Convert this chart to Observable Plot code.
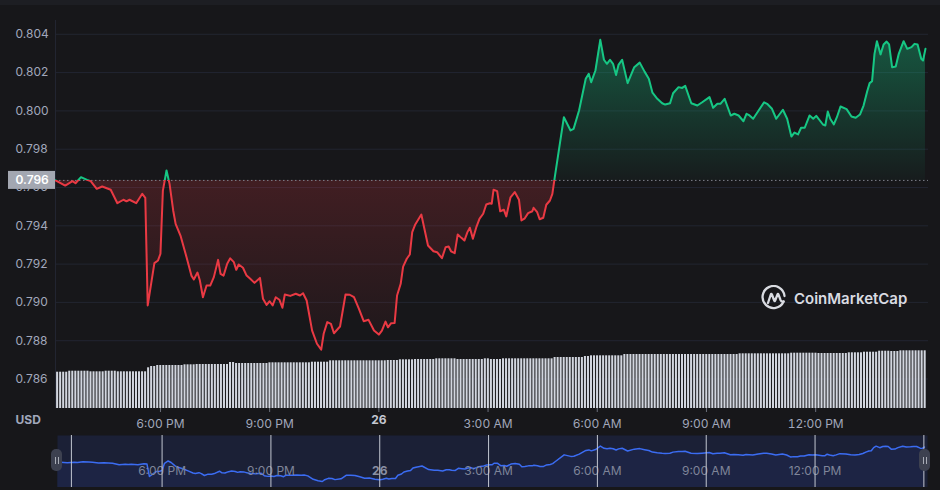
<!DOCTYPE html>
<html><head><meta charset="utf-8">
<script src="https://cdn.jsdelivr.net/npm/d3@7"></script>
<script src="https://cdn.jsdelivr.net/npm/@observablehq/plot@0.6"></script>
<style>
html,body{margin:0;padding:0;background:#17171a;}
#wrap{position:relative;width:940px;height:490px;background:#17171a;overflow:hidden;font-family:Inter,"Noto Sans",sans-serif;}
#wrap > svg{position:absolute;left:0;}
#topstrip{position:absolute;left:0;top:0;width:940px;height:5px;background:#1d1e23;}
.handle{position:absolute;width:11px;height:22px;border-radius:5px;background:#3d4150;display:flex;align-items:center;justify-content:center;}
.handle i{display:block;width:1px;height:7px;background:#a8acb6;margin:0 1px;}
#logo{position:absolute;left:761px;top:285px;display:flex;align-items:center;color:#d9dbe1;font-weight:600;font-size:15px;letter-spacing:0;}
#logo span{margin-left:7px;}
</style></head><body><div id="wrap"><div id="topstrip"></div></div>
<script>
// ---- data ----
const startISO = "2023-06-25T15:00:00Z";          // minutes below are counted from this time
const priceMinutes = [7,23,35,40,49,59,65,75,84,98,109,119,124,129,140,150,155,159,165,170,176,180,184,190,195,201,205,213,223,231,235,241,245,250,256,262,268,275,279,284,290,295,301,305,309,316,322,328,335,344,349,355,360,365,370,376,381,385,394,403,410,415,421,430,438,445,449,455,461,466,476,485,492,499,507,515,523,532,540,545,551,555,560,566,570,576,580,586,591,595,600,610,621,630,636,644,650,655,659,665,670,676,681,686,690,695,701,706,712,717,723,726,729,735,740,746,750,757,764,771,775,780,786,793,795,801,805,811,816,822,826,830,845,856,861,870,881,886,890,897,905,911,916,921,926,931,935,941,950,961,970,978,985,991,999,1007,1012,1020,1025,1034,1040,1045,1055,1065,1073,1085,1091,1098,1103,1110,1120,1126,1133,1141,1146,1151,1157,1166,1175,1180,1188,1195,1206,1213,1220,1225,1231,1236,1242,1250,1256,1261,1272,1276,1280,1284,1290,1295,1301,1311,1319,1326,1333,1339,1345,1349,1353,1357,1361,1367,1372,1377,1381,1386,1392,1397,1405,1411,1418,1423,1428,1434,1437,1441];
const prices = [0.79637,0.79610,0.79633,0.79622,0.79654,0.79640,0.79633,0.79593,0.79605,0.79588,0.79518,0.79536,0.79528,0.79536,0.79518,0.79567,0.79546,0.78984,0.79105,0.79205,0.79219,0.79254,0.79584,0.79689,0.79619,0.79480,0.79410,0.79349,0.79236,0.79140,0.79120,0.79156,0.79114,0.79027,0.79088,0.79088,0.79132,0.79222,0.79149,0.79140,0.79202,0.79230,0.79210,0.79170,0.79198,0.79181,0.79140,0.79123,0.79102,0.79128,0.79019,0.78987,0.79006,0.78984,0.79027,0.79014,0.78972,0.79041,0.79034,0.79045,0.79036,0.79048,0.79010,0.78853,0.78784,0.78753,0.78836,0.78897,0.78888,0.78839,0.78874,0.79041,0.79040,0.79027,0.78967,0.78902,0.78909,0.78853,0.78832,0.78853,0.78900,0.78870,0.78891,0.78893,0.79036,0.79097,0.79187,0.79228,0.79250,0.79367,0.79407,0.79459,0.79297,0.79267,0.79262,0.79231,0.79288,0.79292,0.79267,0.79257,0.79355,0.79337,0.79323,0.79367,0.79390,0.79332,0.79396,0.79437,0.79463,0.79511,0.79518,0.79515,0.79588,0.79581,0.79476,0.79484,0.79449,0.79549,0.79576,0.79536,0.79428,0.79437,0.79466,0.79476,0.79494,0.79471,0.79434,0.79442,0.79510,0.79532,0.79567,0.79654,0.79967,0.79898,0.79906,0.80002,0.80168,0.80194,0.80150,0.80211,0.80371,0.80267,0.80246,0.80267,0.80246,0.80187,0.80240,0.80267,0.80145,0.80228,0.80252,0.80205,0.80168,0.80095,0.80063,0.80040,0.80033,0.80040,0.80092,0.80124,0.80120,0.80131,0.80040,0.80028,0.80045,0.80072,0.80016,0.80037,0.80037,0.80063,0.79976,0.79985,0.79976,0.79946,0.79985,0.79976,0.79959,0.80002,0.80045,0.80037,0.80011,0.79959,0.80006,0.79959,0.79866,0.79887,0.79877,0.79912,0.79912,0.79976,0.79959,0.79974,0.79929,0.79924,0.79997,0.79959,0.79929,0.79967,0.80023,0.80009,0.79971,0.79964,0.79981,0.80028,0.80103,0.80145,0.80155,0.80298,0.80364,0.80295,0.80347,0.80362,0.80347,0.80228,0.80232,0.80298,0.80364,0.80324,0.80333,0.80350,0.80347,0.80272,0.80263,0.80324];
const volumeStartMinute = 8;
const volumeStepMinutes = 5;
const volumes = [
36.3,36.3,36.3,36.3,37.3,37.3,37.3,37.3,37.3,37.3,37.3,36.7,36.7,36.7,36.7,36.7,37.3,37.3,37.3,37.3,
36.7,36.7,36.7,36.7,36.7,36.7,36.7,36.7,36.7,36.7,40.7,42,42,43,43,43,43,43,43,43,
43,43,43.7,43.7,43.7,43.7,44,44,44,44,44,44,44,44,44,44,44,46,46,45,
45,45,45,45,45,45,45,45,45,45,45.7,45.7,45.7,45.7,45.7,45.7,45.7,45.7,45.7,45.7,
45.7,45.7,45.7,45.7,46.3,46.3,46.3,46.3,46.3,46.3,47.7,47.7,47.7,47.7,47.7,47.7,47.7,47.7,47.7,47.7,
47.7,47.7,47.7,47.7,47.7,47.7,47.7,47.7,47.7,48,48,48,48,48.7,48.7,48.7,48.7,48.7,49,49,
49,49,49,49,49,49.7,49.7,49.7,49.7,49.7,49.7,49.7,49,49,49,49,49,49,49,49,
49,49.7,49.7,49,49,49,49,49.7,49.7,49.7,49.7,49.7,49.7,49.7,49.7,49.7,49.7,49.7,49.7,49.7,
49.7,49.7,49.7,49.7,51,51,51,51,51,51,51,51,51,51,52,52,52.7,52.7,52.7,52.7,
52.7,52.7,52.7,52.7,52.7,52.7,52.7,54,54,54,54,54,54,54,54,54,54,54,54,54,
54,54,54,54,54,54,54,54,54,54,54,54,54,54,54,54,54,54,54,54,
54,54,54,54,54,54.7,54.7,54.7,54.7,54.7,54.7,54.7,54.7,54.7,54.7,54.7,54.7,54.7,54.7,54.7,
54.7,54.7,55.3,55.3,55.3,55.3,55.3,55.3,55.3,55.3,55.3,55,55,55,55,55,55,55,55,55,
55,55.7,55.7,55.7,55.7,55.7,56.3,56.3,56.3,56.3,56.3,57.3,57.3,57.3,57.3,57,57,57,57.7,57.7,
57.7,57.7,57.7,57.7,57.7,57.7,57.7];
const yTicks = [0.786,0.788,0.790,0.792,0.794,0.796,0.798,0.800,0.802,0.804];
const xTickMinutes = [180,360,540,720,900,1080,1260];
const xTickLabels = ["6:00 PM","9:00 PM","26","3:00 AM","6:00 AM","9:00 AM","12:00 PM"];
const boldLabel = "26";
const navRuleMinutes = [30,180,360,540,720,900,1080,1260,1440];
const domainMinutes = [7,1446];

// ---- build ----
const t0 = new Date(startISO).getTime();
const toDate = m => new Date(t0 + m * 60000);
const data = priceMinutes.map((m, i) => ({date: toDate(m), price: prices[i]}));
const volData = volumes.map((v, i) => ({
  start: toDate(volumeStartMinute + i * volumeStepMinutes),
  end: toDate(volumeStartMinute + (i + 1) * volumeStepMinutes), v}));
const base = prices[0];
const xDomain = domainMinutes.map(toDate);
const ticks = xTickMinutes.map((m, i) => ({date: toDate(m), label: xTickLabels[i]}));
const labelOf = new Map(ticks.map(d => [+d.date, d.label]));
const boldTicks = ticks.filter(d => d.label === boldLabel);
const GREY = "#a1a7bb";
const font = "Inter, 'Noto Sans', sans-serif";

const wrap = document.getElementById("wrap");

const main = Plot.plot({
  width: 940, height: 435,
  marginLeft: 55, marginRight: 12, marginTop: 20, marginBottom: 27,
  style: {background: "transparent", color: GREY, fontFamily: font, fontSize: "12px", overflow: "visible"},
  x: {type: "utc", domain: xDomain, axis: null},
  y: {domain: [0.78446, 0.80472], axis: null},
  marks: [
    Plot.gridY(yTicks, {stroke: "#222531", strokeOpacity: 1}),
    Plot.ruleX([xDomain[0]], {stroke: "#222531"}),
    Plot.areaY(data, {x: "date", y1: base, y2: "price", fill: "url(#areaGrad)"}),
    Plot.ruleY([base], {stroke: "#7d808a", strokeDasharray: "1.5,2.5"}),
    Plot.line(data, {x: "date", y: "price", stroke: "url(#lineGrad)", strokeWidth: 2}),
    Plot.text(yTicks, {y: d => d, text: d => d.toFixed(3), frameAnchor: "left", textAnchor: "start", dx: -40, fill: GREY, fontSize: 12}),
    Plot.axisX(ticks.map(d => d.date), {tickSize: 4, tickPadding: 7, stroke: "#6a6e7a",
      tickFormat: d => { const l = labelOf.get(+d); return l === boldLabel ? "" : l; }, fill: GREY, fontSize: 12}),
    Plot.text(boldTicks, {x: "date", text: "label", frameAnchor: "bottom", dy: 15, fontWeight: "bold", fill: "#c4c8d2", fontSize: 12}),
    Plot.text(["USD"], {frameAnchor: "bottom-left", dx: -40, dy: 15, textAnchor: "start", fontWeight: "bold", fill: GREY, fontSize: 12})
  ]
});
main.style.top = "0px";
wrap.appendChild(main);

// gradients positioned through the y scale
const ys = main.scale("y");
const yScale = d3.scaleLinear(ys.domain, ys.range);
const yTop = yScale(d3.max(prices)), yBot = yScale(d3.min(prices)), yBase = yScale(base);
const f = (yBase - yTop) / (yBot - yTop);
const defs = d3.select(main).insert("defs", ":first-child");
const lg = defs.append("linearGradient").attr("id", "lineGrad").attr("gradientUnits", "userSpaceOnUse")
  .attr("x1", 0).attr("x2", 0).attr("y1", yTop).attr("y2", yBot);
[[0, "#16c784"], [f, "#16c784"], [f, "#ea3943"], [1, "#ea3943"]].forEach(([o, c]) =>
  lg.append("stop").attr("offset", o).attr("stop-color", c));
const ag = defs.append("linearGradient").attr("id", "areaGrad").attr("gradientUnits", "userSpaceOnUse")
  .attr("x1", 0).attr("x2", 0).attr("y1", yTop).attr("y2", yBot);
[[0, "#16c784", 0.36], [f, "#16c784", 0.03], [f, "#ea3943", 0.2], [1, "#ea3943", 0.03]].forEach(([o, c, a]) =>
  ag.append("stop").attr("offset", o).attr("stop-color", c).attr("stop-opacity", a));

// current price label box
const g = d3.select(main).append("g");
g.append("rect").attr("x", 8).attr("y", yBase - 9).attr("width", 47).attr("height", 18).attr("fill", "#a3a7b1");
g.append("text").attr("x", 15.5).attr("y", yBase).attr("dy", "0.36em").attr("fill", "#ffffff")
  .attr("text-anchor", "start")
  .attr("font-weight", 600).attr("font-size", 12).attr("font-family", font).text(base.toFixed(3));

// volume bars
const vol = Plot.plot({
  width: 940, height: 60, marginLeft: 55, marginRight: 12, marginTop: 0, marginBottom: 0,
  style: {background: "transparent"},
  x: {type: "utc", domain: xDomain, axis: null},
  y: {domain: [0, 60], axis: null},
  marks: [
    Plot.rect(volData, {x1: "start", x2: "end", y1: 0, y2: "v", fill: "#d2d6df", insetLeft: 0.5, insetRight: 0.5})
  ]
});
vol.style.top = "348px";
wrap.appendChild(vol);

// navigator
const nav = Plot.plot({
  width: 940, height: 52, marginLeft: 57, marginRight: 13, marginTop: 0, marginBottom: 0,
  style: {background: "transparent", fontFamily: font, fontSize: "12px"},
  x: {type: "utc", domain: xDomain, axis: null},
  y: {domain: [0.7848, 0.8085], axis: null},
  marks: [
    Plot.frame({fill: "#1b2036", stroke: null}),
    Plot.areaY(data, {x: "date", y1: 0.7848, y2: "price", fill: "#3861fb", fillOpacity: 0.07}),
    Plot.line(data, {x: "date", y: "price", stroke: "#3b6cf2", strokeWidth: 1.5}),
    Plot.text(ticks.filter(d => d.label !== boldLabel), {x: "date", text: "label", frameAnchor: "bottom", dy: -13, fill: "#7f8599", fontSize: 12}),
    Plot.text(boldTicks, {x: "date", text: "label", frameAnchor: "bottom", dy: -13, fill: "#8a90a4", fontWeight: "bold", fontSize: 12}),
    Plot.ruleX(navRuleMinutes.map(toDate), {stroke: "#c2c6d0", strokeWidth: 1})
  ]
});
nav.style.top = "435px";
wrap.appendChild(nav);

// navigator handles
[[51, 449], [919, 449]].forEach(([l, t]) => {
  const h = document.createElement("div");
  h.className = "handle";
  h.style.left = l + "px"; h.style.top = t + "px";
  h.innerHTML = "<i></i><i></i>";
  wrap.appendChild(h);
});

// watermark
const logo = document.createElement("div");
logo.id = "logo";
logo.innerHTML = `<svg width="26" height="26" viewBox="0 0 26 26"><path d="M22.6,16.5 A11,11 0 1 1 23.5,11" fill="none" stroke="#d9dbe1" stroke-width="2.3" stroke-linecap="round"/><path d="M7,18 L9.8,9.5 Q10.3,8.3 10.9,9.5 L13.2,15.5 Q13.7,16.6 14.2,15.5 L16.4,9.6 Q16.9,8.4 17.5,9.6 L19.6,15.2 Q20.4,17 22.6,16.5" fill="none" stroke="#d9dbe1" stroke-width="2.3" stroke-linecap="round" stroke-linejoin="round"/></svg><span>CoinMarketCap</span>`;
wrap.appendChild(logo);
</script></body></html>
